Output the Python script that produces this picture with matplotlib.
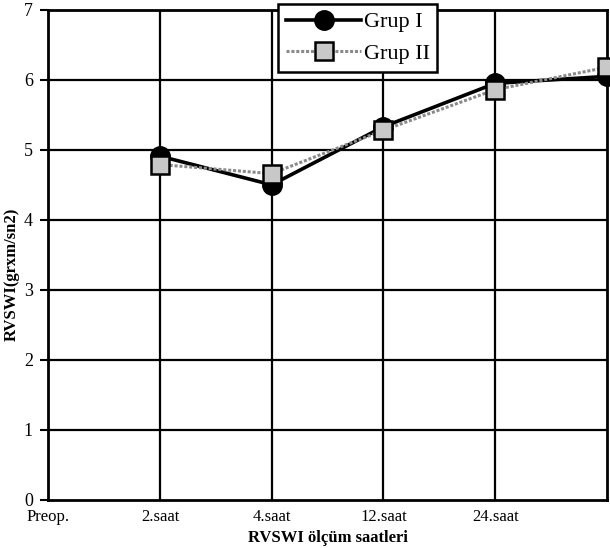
import matplotlib
matplotlib.use("Agg")
import matplotlib.pyplot as plt

# measurement times (last column has no label in the original)
categories = ["Preop.", "2.saat", "4.saat", "12.saat", "24.saat", ""]
tick_labels = ["Preop.", "2.saat", "4.saat", "12.saat", "24.saat"]

# values start at 2.saat
grup1 = [4.91, 4.50, 5.33, 5.95, 6.05]
grup2 = [4.79, 4.66, 5.28, 5.86, 6.18]

plt.rcParams["font.family"] = ["Liberation Serif", "DejaVu Serif"]

fig = plt.figure(figsize=(6.1, 5.48), dpi=100)
ax = fig.add_axes([0.079, 0.088, 0.916, 0.894])

x = list(range(1, len(categories)))

ax.plot(x, grup1, color="black", lw=2.6, marker="o", markersize=14,
        markerfacecolor="black", markeredgecolor="black", label="Grup I",
        zorder=3, clip_on=False)
ax.plot(x, grup2, color="#8a8a8a", lw=2.2, ls=(0, (1, 0.6)), marker="s",
        markersize=12.5, markerfacecolor="#c8c8c8", markeredgecolor="black",
        markeredgewidth=1.8, label="Grup II", zorder=4, clip_on=False)

ax.set_xlim(0, len(categories) - 1)
ax.set_ylim(0, 7)
ax.set_xticks(range(len(tick_labels)))
ax.set_xticklabels(tick_labels, fontsize=12)
ax.set_yticks(range(0, 8))
ax.tick_params(axis="x", length=0, pad=7)
ax.tick_params(axis="y", length=6, width=1.5, direction="out", labelsize=13, pad=5)

# full grid, both directions
for v in range(1, len(categories) - 1):
    ax.axvline(v, color="black", lw=1.6, zorder=1)
for v in range(1, 7):
    ax.axhline(v, color="black", lw=1.6, zorder=1)

for s in ax.spines.values():
    s.set_linewidth(2)
    s.set_color("black")

ax.set_ylabel("RVSWI(grxm/sn2)", fontsize=12, fontweight="bold")
ax.yaxis.set_label_coords(-0.051, 0.46)
ax.set_xlabel("RVSWI ölçüm saatleri", fontsize=12, fontweight="bold", labelpad=3)

leg = fig.legend(loc="upper left", bbox_to_anchor=(278 / 610, 1 - 4 / 548),
                 borderaxespad=0, fontsize=16, handlelength=3.4,
                 handletextpad=0.1, borderpad=0.35, labelspacing=0.5,
                 fancybox=False, framealpha=1, edgecolor="black")
leg.get_frame().set_linewidth(1.8)

fig.savefig("out.png", dpi=100)
